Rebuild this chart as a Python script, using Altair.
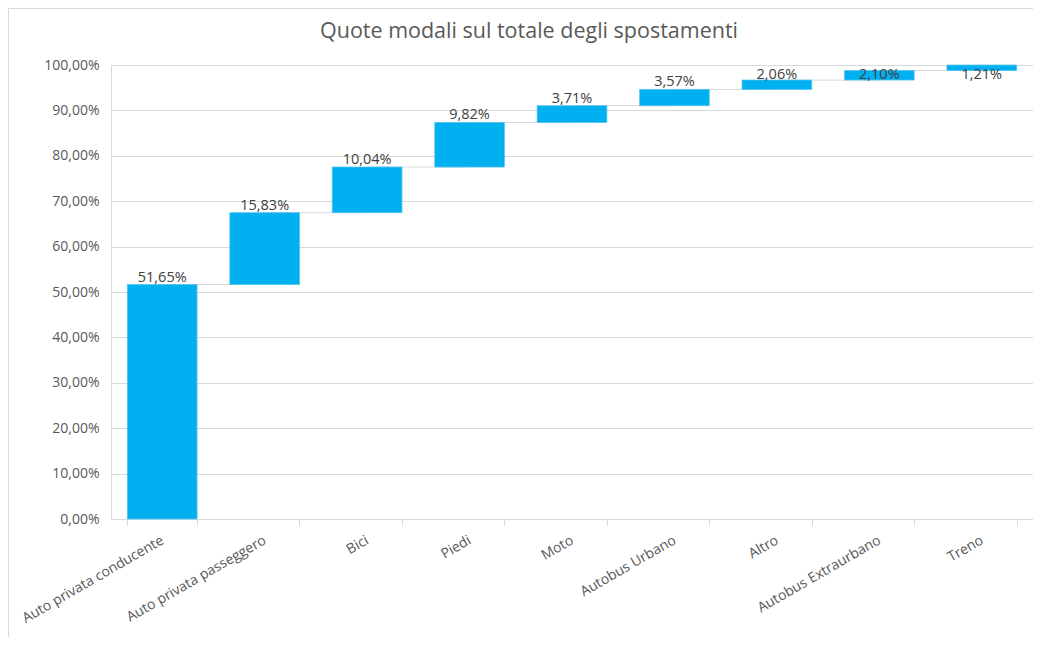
import altair as alt
import pandas as pd

categories = ["Auto privata conducente", "Auto privata passeggero", "Bici", "Piedi", "Moto",
              "Autobus Urbano", "Altro", "Autobus Extraurbano", "Treno"]
values = [51.65, 15.83, 10.04, 9.82, 3.71, 3.57, 2.06, 2.10, 1.21]
y_ticks = [0, 10, 20, 30, 40, 50, 60, 70, 80, 90, 100]
title_text = "Quote modali sul totale degli spostamenti"

ends, starts = [], []
acc = 0.0
for v in values:
    starts.append(acc)
    acc += v
    ends.append(acc)

df = pd.DataFrame({
    "cat": categories,
    "value": values,
    "start": starts,
    "end": ends,
    "next": categories[1:] + [categories[-1]],
    "label": [f"{v:.2f}".replace(".", ",") + "%" for v in values],
})
conn = df.iloc[:-1]

FONT = "Open Sans"
TXT = "#595959"
GRID = "#d9d9d9"

W, H = 922, 454
PAD = {"left": 103, "top": 57, "right": 0, "bottom": 118}

xscale = alt.Scale(domain=categories, paddingInner=0.32, paddingOuter=0.16)
yscale = alt.Scale(domain=[0, 100])

base = alt.Chart(df)

bars = base.mark_bar(color="#00B0F0", stroke="#4fc3ee", strokeWidth=0.8).encode(
    x=alt.X("cat:N", scale=xscale, sort=categories,
            axis=alt.Axis(title=None, labelAngle=330, labelAlign="right", labelBaseline="middle",
                          labelPadding=14, labelFontSize=14, labelColor=TXT, labelFont=FONT,
                          tickBand="extent", tickSize=6, tickColor=GRID, domainColor=GRID,
                          labelOverlap=False)),
    y=alt.Y("start:Q", scale=yscale,
            axis=alt.Axis(title=None, values=y_ticks, ticks=False, labelPadding=12,
                          labelExpr="replace(format(datum.value, '.2f'), '.', ',') + '%'",
                          labelFontSize=14, labelColor=TXT, labelFont=FONT,
                          gridColor=GRID, domainColor=GRID)),
    y2="end:Q",
)

connectors = alt.Chart(conn).mark_rule(color=GRID, strokeWidth=1).encode(
    x=alt.X("cat:N", scale=xscale, sort=categories),
    x2="next:N",
    y=alt.Y("end:Q", scale=yscale),
)

labels = base.transform_calculate(
    ly="min(datum.end, 96.2)"
).mark_text(baseline="bottom", dy=0, fontSize=14.5, color="#404040", font=FONT).encode(
    x=alt.X("cat:N", scale=xscale, sort=categories),
    y=alt.Y("ly:Q", scale=yscale),
    text="label:N",
)

one = alt.Data(values=[{}])
frame_top = alt.Chart(one).mark_rule(color=GRID, strokeWidth=1).encode(
    x=alt.value(-102.5), x2=alt.value(W), y=alt.value(-56.5)
)
frame_left = alt.Chart(one).mark_rule(color=GRID, strokeWidth=1).encode(
    x=alt.value(-102.5), y=alt.value(-56.5), y2=alt.value(H + PAD["bottom"])
)

title = alt.Chart(alt.Data(values=[{"t": title_text}])).mark_text(
    fontSize=21.5, font=FONT, color=TXT, align="center", baseline="alphabetic"
).encode(x=alt.value(418), y=alt.value(-27), text="t:N")

chart = alt.layer(frame_top, frame_left, connectors, bars, labels, title).properties(
    width=W, height=H,
    autosize=alt.AutoSizeParams(type="none"),
    padding=PAD,
).configure_view(stroke=None).configure(background="white")

chart.save("out.html", embed_options={"renderer": "svg", "actions": False})
